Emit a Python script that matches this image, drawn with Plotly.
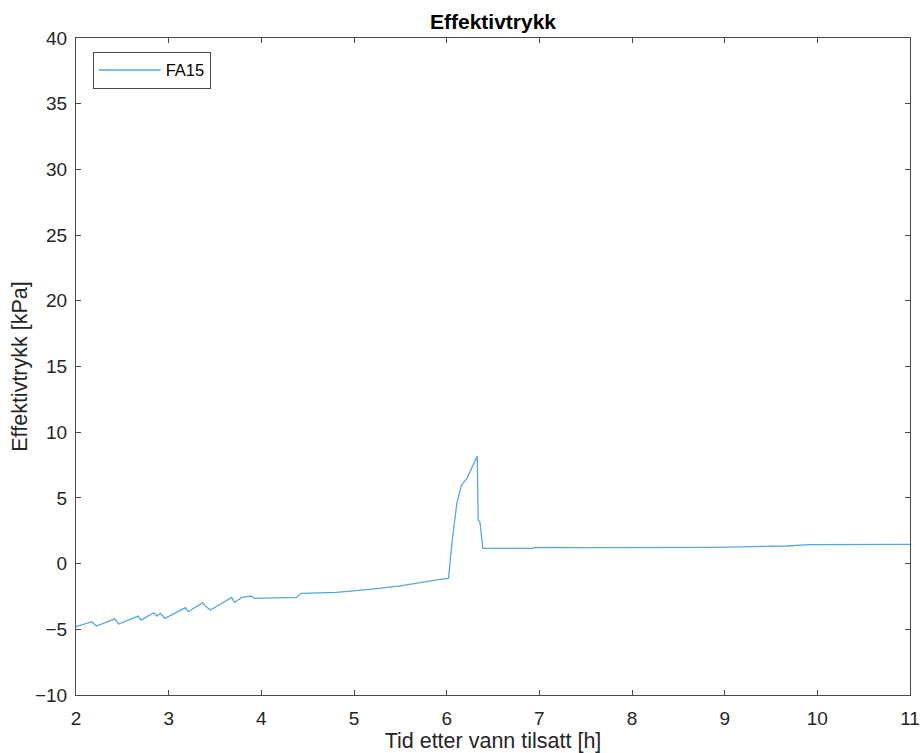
import plotly.graph_objects as go

# Data
time_h = [2.00, 2.17, 2.22, 2.42, 2.46, 2.67, 2.70, 2.84, 2.87, 2.91, 2.96,
          3.18, 3.21, 3.37, 3.39, 3.45, 3.68, 3.71, 3.79, 3.89, 3.93,
          4.38, 4.43, 4.81, 5.17, 5.50, 5.93, 6.02, 6.06, 6.11, 6.16,
          6.22, 6.33, 6.34, 6.36, 6.39, 6.93, 6.95, 7.44, 8.91, 9.67,
          9.92, 11.00]
pressure_kpa = [-4.80, -4.42, -4.75, -4.20, -4.60, -3.99, -4.30, -3.74, -3.99, -3.78, -4.17,
                -3.35, -3.66, -2.97, -3.20, -3.53, -2.57, -2.95, -2.57, -2.47, -2.64,
                -2.57, -2.26, -2.19, -1.96, -1.70, -1.20, -1.12, 1.80, 4.59, 5.98,
                6.49, 8.19, 3.32, 3.11, 1.16, 1.16, 1.24, 1.21, 1.24, 1.34,
                1.44, 1.47]
series_name = "FA15"

title_text = "Effektivtrykk"
x_label = "Tid etter vann tilsatt [h]"
y_label = "Effektivtrykk [kPa]"
x_ticks = [2, 3, 4, 5, 6, 7, 8, 9, 10, 11]
y_ticks = [-10, -5, 0, 5, 10, 15, 20, 25, 30, 35, 40]

font_family = "Liberation Sans, Arial, Helvetica, sans-serif"
axis_color = "#4a4a4a"
text_color = "#262626"

fig = go.Figure()
fig.add_trace(go.Scatter(
    x=time_h, y=pressure_kpa, mode="lines", name=series_name,
    line=dict(color="#5aa6dc", width=1.3),
))

axis_common = dict(
    showline=True, linecolor=axis_color, linewidth=1,
    mirror="ticks", ticks="inside", ticklen=5, tickcolor=axis_color,
    showgrid=False, zeroline=False, automargin=False,
    tickfont=dict(family=font_family, size=19, color=text_color),
)

fig.update_layout(
    width=921, height=753,
    margin=dict(l=76, r=11, t=38, b=58),
    paper_bgcolor="white", plot_bgcolor="white",
    title=dict(text="<b>" + title_text + "</b>", x=(76 + 910) / 2 / 921, xanchor="center",
               y=1 - 22 / 753, yanchor="middle",
               font=dict(family=font_family, size=21, color="#000000")),
    xaxis=dict(range=[2, 11], tickvals=x_ticks, ticklabelstandoff=6, **axis_common,
               title=dict(text=x_label, standoff=3,
                          font=dict(family=font_family, size=21.5, color=text_color))),
    yaxis=dict(range=[-10, 40], tickvals=y_ticks, ticklabelstandoff=4, **axis_common,
               title=dict(text=y_label, standoff=1,
                          font=dict(family=font_family, size=21.5, color=text_color))),
    legend=dict(x=0.02, y=0.979, xanchor="left", yanchor="top",
                bordercolor=axis_color, borderwidth=1, bgcolor="white",
                itemwidth=62,
                font=dict(family=font_family, size=16.5, color="#000000")),
    showlegend=True,
)

fig.write_html("out.html")
